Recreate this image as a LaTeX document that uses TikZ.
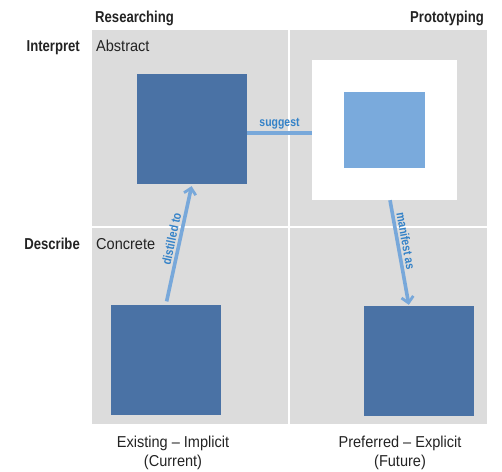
\documentclass[tikz,border=0pt]{standalone}
\usepackage{fontspec}
\setmainfont{Liberation Sans}[FakeStretch=0.92, BoldFeatures={FakeStretch=0.83}]
\usetikzlibrary{arrows.meta}

\definecolor{cellgray}{RGB}{220,220,220}
\definecolor{darkbox}{RGB}{74,114,165}
\definecolor{lightbox}{RGB}{122,170,220}
\definecolor{flowblue}{RGB}{120,168,218}
\definecolor{labelblue}{RGB}{52,130,200}
\definecolor{textgray}{RGB}{35,35,35}

\begin{document}
\begin{tikzpicture}[x=1pt, y=-1pt,
	cell/.style={fill=cellgray, draw=none},
	bigbox/.style={rectangle, fill=darkbox, minimum width=110pt, minimum height=110pt, inner sep=0pt},
	flow/.style={draw=flowblue, line width=3.6pt, -{Straight Barb[length=6pt, width=12pt, line width=2.8pt]}},
	flowlabel/.style={text=labelblue, font=\bfseries\fontsize{12.6}{14}\selectfont, inner sep=2pt},
	heading/.style={text=textgray, font=\bfseries\fontsize{15.8}{19}\selectfont, inner sep=0pt},
	plain/.style={text=textgray, font=\fontsize{15.8}{19}\selectfont, inner sep=0pt}]

	\useasboundingbox (0,0) rectangle (502,471);

	% quadrants
	\fill [cell] (92,30) rectangle (288,226);
	\fill [cell] (290,30) rectangle (487,226);
	\fill [cell] (92,228) rectangle (288,424);
	\fill [cell] (290,228) rectangle (487,424);

	% headings
	\node [heading, anchor=base west] (res) at (95,22) {Researching};
	\node [heading, anchor=base east] (pro) at (484,22) {Prototyping};
	\node [heading, anchor=base east] (int) at (80,51) {Interpret};
	\node [heading, anchor=base east] (des) at (80,249) {Describe};
	\node [plain, anchor=base west] (abs) at (96,51) {Abstract};
	\node [plain, anchor=base west] (con) at (96,249) {Concrete};

	% boxes
	\node [bigbox] (tl) at (192,129) {};
	\node [rectangle, fill=white, minimum width=145pt, minimum height=140pt, inner sep=0pt] (ws) at (384.5,130) {};
	\node [rectangle, fill=lightbox, minimum width=81pt, minimum height=76pt, inner sep=0pt] (inner) at (384.5,130) {};
	\node [bigbox] (bl) at (166,359.5) {};
	\node [bigbox] (br) at (419,361) {};

	% connectors
	\draw [draw=flowblue, line width=3.6pt] ([yshift=-4pt]tl.east) -- ([yshift=-4pt]tl.east -| ws.west)
		node [flowlabel, midway, above] (sug) {suggest};
	\draw [flow, shorten <=3pt, shorten >=2pt] (bl.north) -- (tl.south)
		node [flowlabel, pos=0.53, above, sloped] (dis) {distilled to};
	\draw [flow, shorten >=1pt] ([xshift=5.5pt]ws.south) -- ([xshift=-10pt]br.north)
		node [flowlabel, pos=0.4, above, sloped] (man) {manifest as};

	% column captions
	\node [plain, anchor=base] (cur1) at (173,447) {Existing -- Implicit};
	\node [plain, anchor=base] (cur2) at (173,466) {(Current)};
	\node [plain, anchor=base] (fut1) at (400,447) {Preferred -- Explicit};
	\node [plain, anchor=base] (fut2) at (400,466) {(Future)};

\end{tikzpicture}
\end{document}
